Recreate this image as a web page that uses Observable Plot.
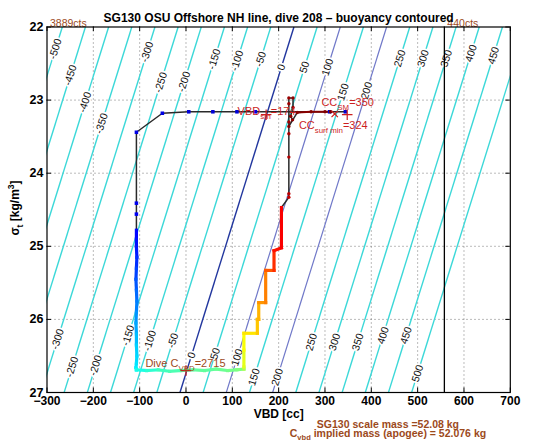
<!DOCTYPE html>
<html>
<head>
<meta charset="utf-8">
<script src="https://cdn.jsdelivr.net/npm/d3@7"></script>
<script src="https://cdn.jsdelivr.net/npm/@observablehq/plot@0.6"></script>
<style>
  html, body { margin: 0; padding: 0; background: #fff; overflow: hidden; }
  svg { display: block; overflow: hidden; }
</style>
</head>
<body>
<div id="chart"></div>
<script>
// ---------------- data ----------------
const titleText = "SG130 OSU Offshore NH line, dive 208 – buoyancy contoured";
const xTicks = [-300, -200, -100, 0, 100, 200, 300, 400, 500, 600, 700];
const yTicks = [22, 23, 24, 25, 26, 27];

// buoyancy contours: level, VBD where each crosses sigma=27 and sigma=22
const contourLevels      = [-500, -450, -400, -350, -300, -250, -200, -150, -100, -50, 0, 50, 100, 150, 200, 250, 300, 350, 400, 450, 500];
const contourVBDAtSig27  = [-513, -463, -413, -363, -313, -263, -213, -163, -113, -63, -13, 37, 87, 137, 187, 237, 287, 337, 387, 437, 487];
const contourVBDAtSig22  = [-267, -217, -167, -117, -67, -17, 33, 83, 133, 183, 233, 283, 333, 383, 433, 483, 533, 583, 633, 683, 733];

// contour labels (level, sigma where the label sits)
const upperLabelLevels = [-500, -450, -400, -350, -300, -250, -200, -150, -100, -50, 0, 50, 100, 150, 200, 250, 300, 350, 400, 450];
const upperLabelSigma  = [22.30, 22.66, 23.03, 23.32, 22.34, 22.76, 22.75, 22.44, 22.46, 22.44, 22.55, 22.55, 22.55, 22.89, 22.87, 22.43, 22.43, 22.43, 22.36, 22.39];
const lowerLabelLevels = [-300, -250, -200, -150, -100, -50, 0, 50, 100, 150, 200, 250, 300, 350, 400, 450, 500];
const lowerLabelSigma  = [26.27, 26.65, 26.63, 26.22, 26.29, 26.29, 26.49, 26.47, 26.52, 26.79, 26.79, 26.31, 26.31, 26.31, 26.22, 26.22, 26.74];

const vbdMax = 557.7;          // 440 cts
const vbdMinLabel = -300;      // 3889 cts

// dive trace, in time order (t = fraction of dive, for the jet colour)
const diveStartVBD   = [344, 310, 150, 110, 58, 6, -51, -107, -107, -107];
const diveStartSigma = [23.16, 23.16, 23.16, 23.16, 23.16, 23.16, 23.18, 23.44, 24.41, 24.56];
const diveStartT     = [0.08, 0.08, 0.09, 0.09, 0.09, 0.09, 0.1, 0.1, 0.11, 0.115];

const descentVBD   = [-107, -107, -107, -106, -107, -108, -107, -106, -107, -108, -107, -107, -106, -107, -108, -107, -107];
const descentSigma = [24.78, 24.9, 25.0, 25.15, 25.3, 25.45, 25.6, 25.75, 25.9, 26.05, 26.2, 26.35, 26.5, 26.6, 26.66, 26.68, 26.69];
const descentT     = [0.13, 0.14, 0.15, 0.17, 0.19, 0.21, 0.23, 0.25, 0.27, 0.29, 0.31, 0.33, 0.34, 0.35, 0.36, 0.365, 0.37];

const pumpVBD   = [-107, -85, -60, -35, -10, 15, 40, 65, 90, 110, 125];
const pumpSigma = [26.69, 26.70, 26.69, 26.71, 26.70, 26.69, 26.70, 26.68, 26.70, 26.69, 26.68];
const pumpT     = [0.4, 0.42, 0.44, 0.45, 0.46, 0.47, 0.47, 0.48, 0.49, 0.5, 0.55];

const climbVBD   = [125, 125, 125, 154, 154, 157, 157, 172, 172, 190, 190, 206, 206];
const climbSigma = [26.65, 26.42, 26.19, 26.19, 26.0, 26.0, 25.77, 25.77, 25.33, 25.33, 25.06, 25.02, 24.47];
const climbT     = [0.6, 0.62, 0.65, 0.68, 0.69, 0.7, 0.73, 0.75, 0.79, 0.83, 0.86, 0.88, 0.9];

const ascentVBD   = [222, 222, 222, 222, 222, 222, 222];
const ascentSigma = [24.33, 24.28, 23.78, 23.46, 23.30, 23.05, 22.97];
const ascentT     = [0.93, 0.94, 0.95, 0.96, 0.965, 0.97, 0.975];

const surfaceEndVBD   = [231, 231, 226, 230, 222, 240, 270, 300, 312];
const surfaceEndSigma = [22.97, 23.10, 23.22, 23.27, 23.36, 23.17, 23.16, 23.16, 23.16];
const surfaceEndT     = [0.98, 0.98, 0.985, 0.985, 0.99, 0.99, 0.995, 0.998, 1.0];

// markers
const plusVBD   = [173, 348, 0];
const plusSigma = [23.2, 23.2, 26.7];
const timesVBD   = [321];
const timesSigma = [23.19];

// annotations with subscripts
const RED = "#cc1f1f", BROWN = "#9c4a1c";
const notes = [
  {x: 175, y: 23.16, color: RED,   parts: [["VBD"], ["sm", "sub"], ["=174"]]},
  {x: 350, y: 23.04, color: RED,   parts: [["CC"], ["SM", "sub"], ["=350"]]},
  {x: 319, y: 23.35, color: RED,   parts: [["CC"], ["surf min", "sub"], ["=324"]]},
  {x: 0,   y: 26.61, color: BROWN, parts: [["Dive C"], ["VBD", "sub"], ["=2715"]]}
];
const massLine1 = [["SG130 scale mass =52.08 kg"]];
const massLine2 = [["C"], ["vbd", "sub"], [" implied mass (apogee) = 52.076 kg"]];
const yLabelParts = [["σ"], ["t", "sub"], [" [kg/m"], ["3", "sup"], ["]"]];

// ---------------- styling ----------------
const FONT = "'Liberation Sans', Arial, Helvetica, sans-serif";
const CYAN = "#3cd8d8", NAVY = "#22379e", SLATE = "#7078c8";
const jetDomain = [0, 0.125, 0.375, 0.625, 0.875, 1];
const jetRange = ["#00007f", "#0000ff", "#00ffff", "#ffff00", "#ff0000", "#7f0000"];

const W = 559, H = 442, mT = 26.5, mB = 50, mL = 46.5, mR = 49.2;
const plotW = W - mL - mR, plotH = H - mT - mB, tickLen = 4.5;

// ---------------- derived tables ----------------
const contours = contourLevels.map((level, i) => ({level, x1: contourVBDAtSig27[i], y1: 27, x2: contourVBDAtSig22[i], y2: 22}));
function labelRow(level, sigma) {
  const c = contours[contourLevels.indexOf(level)];
  return {x: c.x1 + (c.x2 - c.x1) * (27 - sigma) / 5, y: sigma, text: String(level)};
}
const contourLabels = [
  ...upperLabelLevels.map((l, i) => labelRow(l, upperLabelSigma[i])),
  ...lowerLabelLevels.map((l, i) => labelRow(l, lowerLabelSigma[i]))
];
const phase = (v, s, t) => v.map((d, i) => ({vbd: d, sigma: s[i], t: t[i]}));
const diveStart = phase(diveStartVBD, diveStartSigma, diveStartT);
const descent = phase(descentVBD, descentSigma, descentT);
const pump = phase(pumpVBD, pumpSigma, pumpT);
const climb = phase(climbVBD, climbSigma, climbT);
const ascent = phase(ascentVBD, ascentSigma, ascentT);
const surfaceEnd = phase(surfaceEndVBD, surfaceEndSigma, surfaceEndT);
const trace = [...diveStart, ...descent, ...pump, ...climb, ...ascent, ...surfaceEnd];
const segs = pts => pts.slice(0, -1).map((p, i) => ({x1: p.vbd, y1: p.sigma, x2: pts[i + 1].vbd, y2: pts[i + 1].sigma, t: p.t}));
const thickSegs = segs([...descent, ...pump, ...climb]);
const endSegs = segs(surfaceEnd.slice(5));
const plusMarks = plusVBD.map((v, i) => ({vbd: v, sigma: plusSigma[i]}));
const timesMarks = timesVBD.map((v, i) => ({vbd: v, sigma: timesSigma[i]}));

// rich text (sub/superscripts) drawn with tspans, positioned through the plot scales
function appendParts(textSel, parts, size) {
  let cur = 0;
  for (const [str, kind] of parts) {
    const target = kind === "sub" ? 0.32 * size : kind === "sup" ? -0.45 * size : 0;
    const ts = textSel.append("tspan").text(str).attr("dy", target - cur);
    if (kind) ts.attr("font-size", size * 0.72);
    cur = target;
  }
}
function richNotes(items, size) {
  return (index, scales) => {
    const g = d3.create("svg:g").attr("font-family", FONT);
    for (const n of items) {
      const t = g.append("text")
        .attr("x", scales.x(n.x)).attr("y", scales.y(n.y) + 0.35 * size)
        .attr("fill", n.color).attr("font-size", size).attr("font-weight", "normal");
      appendParts(t, n.parts, size);
    }
    return g.node();
  };
}
function massNotes(index, scales) {
  const g = d3.create("svg:g").attr("font-family", FONT).attr("fill", BROWN)
    .attr("font-weight", "bold").attr("font-size", 10.5);
  const x0 = scales.x(437);
  const base = H - mB;
  appendParts(g.append("text").attr("x", x0).attr("y", base + 35.5), massLine1, 10.5);
  appendParts(g.append("text").attr("x", x0).attr("y", base + 45), massLine2, 10.5);
  return g.node();
}
function yLabel() {
  const g = d3.create("svg:g");
  const cx = 15, cy = 208;
  const t = g.append("text").attr("x", cx).attr("y", cy + 4)
    .attr("transform", `rotate(-90,${cx},${cy})`).attr("text-anchor", "middle")
    .attr("font-family", FONT).attr("font-weight", "bold").attr("font-size", 12).attr("fill", "#000");
  appendParts(t, yLabelParts, 12);
  return g.node();
}

const chart = Plot.plot({
  width: W, height: H,
  marginTop: mT, marginBottom: mB, marginLeft: mL, marginRight: mR,
  style: {fontFamily: FONT, fontSize: "12px", background: "#fff", color: "#000", overflow: "hidden"},
  x: {domain: [-300, 700]},
  y: {domain: [22, 27], reverse: true},
  color: {type: "linear", domain: jetDomain, range: jetRange, interpolate: "rgb"},
  marks: [
    // dotted grid
    Plot.ruleX(xTicks.slice(1, -1), {x: d => d, stroke: "#555", strokeWidth: 0.8, strokeDasharray: "1,3"}),
    Plot.ruleY(yTicks.slice(1, -1), {y: d => d, stroke: "#555", strokeWidth: 0.8, strokeDasharray: "1,3"}),
    // buoyancy contours
    Plot.link(contours.filter(c => c.level !== 0 && c.level !== 100 && c.level !== 200),
      {x1: "x1", y1: "y1", x2: "x2", y2: "y2", stroke: CYAN, strokeWidth: 1.4, clip: true}),
    Plot.link(contours.filter(c => c.level === 100 || c.level === 200),
      {x1: "x1", y1: "y1", x2: "x2", y2: "y2", stroke: SLATE, strokeWidth: 1.2, clip: true}),
    Plot.link(contours.filter(c => c.level === 0),
      {x1: "x1", y1: "y1", x2: "x2", y2: "y2", stroke: NAVY, strokeWidth: 1.4, clip: true}),
    Plot.text(contourLabels, {x: "x", y: "y", text: d => d.text, rotate: -72.7, fontSize: 10.5, fontWeight: "normal",
      fill: "#111", stroke: "white", strokeWidth: 3.5, paintOrder: "stroke"}),
    // VBD max line
    Plot.ruleX([vbdMax], {x: d => d, stroke: "#000", strokeWidth: 1.3}),
    // dive trace
    Plot.line(trace, {x: "vbd", y: "sigma", stroke: "#2a2a2a", strokeWidth: 1.5}),
    Plot.link(thickSegs, {x1: "x1", y1: "y1", x2: "x2", y2: "y2", stroke: "t", strokeWidth: 3.2, strokeLinecap: "square"}),
    Plot.link(endSegs, {x1: "x1", y1: "y1", x2: "x2", y2: "y2", stroke: "t", strokeWidth: 2}),
    Plot.dot(diveStart, {x: "vbd", y: "sigma", fill: "t", r: 2, symbol: "square"}),
    Plot.dot([...ascent, ...surfaceEnd], {x: "vbd", y: "sigma", fill: "t", r: 1.7}),
    // markers
    Plot.dot(plusMarks, {x: "vbd", y: "sigma", symbol: "plus", stroke: RED, r: 3.5, strokeWidth: 1.2}),
    Plot.dot(timesMarks, {x: "vbd", y: "sigma", symbol: "times", stroke: RED, r: 3, strokeWidth: 1.2}),
    // annotations
    richNotes(notes, 11),
    Plot.text([{x: vbdMinLabel, text: "3889cts"}, {x: vbdMax, text: "440cts"}],
      {x: "x", text: "text", frameAnchor: "top", dy: -7.5, dx: 3, textAnchor: "start", fill: BROWN, fontSize: 10.5, fontWeight: "normal"}),
    massNotes,
    // frame and inward ticks
    Plot.frame({stroke: "#000", strokeWidth: 1.2}),
    Plot.ruleX(xTicks, {x: d => d, insetTop: plotH - tickLen, stroke: "#000"}),
    Plot.ruleX(xTicks, {x: d => d, insetBottom: plotH - tickLen, stroke: "#000"}),
    Plot.ruleY(yTicks, {y: d => d, insetRight: plotW - tickLen, stroke: "#000"}),
    Plot.ruleY(yTicks, {y: d => d, insetLeft: plotW - tickLen, stroke: "#000"}),
    // axes
    Plot.axisX({ticks: xTicks, tickSize: 0, tickPadding: 4, tickFormat: d3.format("d"), fontWeight: "bold", fontSize: 12, label: null}),
    Plot.axisY({ticks: yTicks, tickSize: 0, tickPadding: 3.5, tickFormat: d3.format("d"), fontWeight: "bold", fontSize: 12.5, label: null}),
    Plot.text(["VBD [cc]"], {text: d => d, frameAnchor: "bottom", dy: 25, fontWeight: "bold", fontSize: 12}),
    yLabel,
    Plot.text([titleText], {text: d => d, frameAnchor: "top", dy: -13.5, fontWeight: "bold", fontSize: 12})
  ]
});
document.getElementById("chart").appendChild(chart);
</script>
</body>
</html>
